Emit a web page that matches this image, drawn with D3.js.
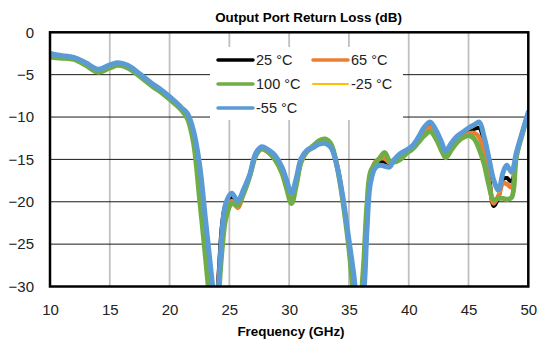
<!DOCTYPE html>
<html>
<head>
<meta charset="utf-8">
<script src="https://cdn.jsdelivr.net/npm/d3@7"></script>
<style>
    body { margin: 0; background: #fff; }
    text { font-family: 'Liberation Sans', Arial, sans-serif; }
</style>
</head>
<body>
<div id="chart"></div>
<script>
// Frequency points (GHz)
var freq = [10, 10.5, 11, 12, 13, 14, 15, 15.7, 16.5, 17.5, 18.5, 19.5, 20.5, 21, 21.5, 22, 22.5, 23, 23.3, 23.6,
    23.8, 24.1, 24.4, 24.7, 25.2, 25.7, 26.2, 26.7, 27.2, 27.7, 28.3, 28.8, 29.4, 29.8, 30.2, 30.6, 31, 31.5, 32, 32.5,
    33, 33.5, 34, 34.5, 35, 35.4, 35.8, 36.2, 36.5, 36.8, 37.2, 37.6, 38, 38.4, 38.8, 39.3, 39.8, 40.3, 40.8, 41.3,
    41.8, 42.3, 42.7, 43.1, 43.6, 44.1, 44.6, 45.1, 45.5, 45.9, 46.3, 46.7, 47.1, 47.5, 47.9, 48.2, 48.6, 49, 49.5, 50];

// Return loss (dB) for each temperature
var rl25 = [-2.6, -2.7, -2.8, -3.0, -3.7, -4.45, -3.95, -3.7, -4.0, -5.0, -6.1, -7.1, -8.3, -9.0, -9.8, -12.0, -16.0, -22.5, -26.8, -31,
    -34, -28.5, -22.5, -20.3, -19.4, -20.1, -18.7, -16.9, -14.4, -13.6, -14.0, -14.7, -16.2, -17.9, -19.4, -17.5, -15.1, -14.0, -13.6, -13.1,
    -13.0, -13.6, -15.7, -19.7, -25, -30, -34, -30, -22.5, -17.2, -15.6, -15.2, -15.3, -15.6, -15.1, -14.4, -14.1, -13.6, -12.6, -11.4,
    -10.8, -11.9, -13.1, -14.2, -13.2, -12.4, -11.9, -11.6, -11.4, -11.3, -13.0, -16.5, -20.5, -19.5, -17.3, -17.2, -17.6, -14.5, -11.8, -9.5];
var rl65 = [-2.7, -2.8, -2.9, -3.1, -3.8, -4.55, -4.05, -3.8, -4.1, -5.1, -6.2, -7.2, -8.4, -9.1, -9.9, -12.3, -17.0, -24.0, -28.5, -33,
    -35, -29.5, -24, -21.0, -19.9, -20.7, -18.9, -17.0, -14.5, -13.8, -14.2, -14.9, -16.5, -18.3, -19.8, -17.8, -15.3, -14.1, -13.6, -13.0,
    -12.9, -13.5, -15.6, -19.8, -25.2, -30.5, -34, -28.5, -21.5, -17.0, -15.3, -14.9, -14.9, -15.4, -15.1, -14.6, -14.2, -13.7, -12.8, -11.7,
    -11.2, -12.2, -13.4, -14.4, -13.4, -12.6, -12.2, -11.9, -11.9, -12.4, -14.3, -17.5, -20.2, -19.3, -17.8, -17.9, -18.3, -14.6, -11.9, -9.5];
var rl100 = [-2.9, -3.0, -3.05, -3.2, -3.9, -4.7, -4.2, -3.9, -4.2, -5.2, -6.3, -7.3, -8.5, -9.2, -10.2, -13.0, -19.5, -26.5, -31, -36,
    -36, -31, -25.5, -22.0, -20.2, -20.4, -19.0, -17.0, -14.6, -13.7, -14.2, -15.0, -16.6, -18.5, -20.2, -18.0, -15.3, -14.0, -13.4, -12.8,
    -12.6, -13.2, -15.8, -20, -25.5, -31, -34, -28, -20.5, -16.5, -15.5, -14.8, -14.2, -15.2, -15.3, -15.0, -14.3, -13.8, -13.0, -12.2,
    -11.7, -12.6, -13.8, -14.8, -13.8, -12.9, -12.4, -12.2, -12.6, -13.8, -15.5, -18.0, -19.8, -19.6, -19.6, -19.7, -19.5, -14.7, -12.0, -9.6];
var rlM25 = [-2.55, -2.7, -2.8, -3.0, -3.65, -4.4, -3.9, -3.65, -3.95, -4.95, -6.05, -7.05, -8.25, -8.95, -9.7, -11.9, -15.7, -22.2, -26.3, -30.5,
    -34, -29.5, -23, -20.2, -19.2, -20.0, -18.6, -16.9, -14.4, -13.6, -14.0, -14.6, -16.0, -17.7, -19.2, -17.4, -15.0, -14.0, -13.6, -13.2,
    -13.1, -13.6, -15.7, -19.6, -24.7, -29, -33.5, -30.5, -23.2, -17.6, -15.9, -15.6, -15.7, -15.8, -15.1, -14.4, -14.0, -13.5, -12.5, -11.3,
    -10.7, -11.7, -12.9, -14.1, -13.1, -12.3, -11.8, -11.4, -11.1, -10.8, -12.6, -15.3, -17.9, -18.9, -16.7, -15.9, -16.7, -14.3, -11.8, -9.4];
var rlM55 = [-2.5, -2.65, -2.75, -2.95, -3.6, -4.35, -3.85, -3.6, -3.9, -4.9, -6.0, -7.0, -8.2, -8.9, -9.6, -11.6, -15.5, -22.0, -26.0, -30,
    -34, -30, -23.3, -20.2, -19.0, -19.9, -18.5, -16.8, -14.3, -13.5, -13.9, -14.5, -15.9, -17.5, -19.0, -17.2, -14.9, -13.9, -13.6, -13.2,
    -13.1, -13.6, -15.8, -19.5, -24.5, -28.5, -33, -31, -23.5, -17.8, -16.0, -15.7, -15.8, -15.9, -15.0, -14.3, -13.9, -13.4, -12.4, -11.2,
    -10.6, -11.6, -12.8, -14.0, -13.0, -12.2, -11.7, -11.2, -10.9, -10.6, -12.3, -14.8, -17.4, -18.6, -16.5, -15.7, -16.5, -14.2, -11.8, -9.4];

var seriesNames = ['25 °C', '65 °C', '100 °C', '-25 °C', '-55 °C'];
var xTicks = [10, 15, 20, 25, 30, 35, 40, 45, 50];
var yTicks = [0, -5, -10, -15, -20, -25, -30];

var chartTitle = 'Output Port Return Loss (dB)';
var xTitle = 'Frequency (GHz)';

// styles
var colors = ['#000000', '#ED7D31', '#70AD47', '#FFC000', '#5B9BD5'];
var widths = [4, 4.5, 5, 2, 5];
var legendWidths = [3.5, 3.5, 3.5, 2, 3.5];

var width = 548, height = 343;
var plotLeft = 50, plotRight = 528.3, plotTop = 32.3, plotBottom = 286.5;

var svg = d3.select('#chart').append('svg')
    .attr('width', width)
    .attr('height', height);

var xScale = d3.scaleLinear().domain([10, 50]).range([plotLeft, plotRight]);
var yScale = d3.scaleLinear().domain([-30, 0]).range([plotBottom, plotTop]);

// gridlines
svg.append('g').selectAll('line').data(xTicks.slice(1, -1)).enter().append('line')
    .attr('x1', function(d) { return xScale(d); })
    .attr('x2', function(d) { return xScale(d); })
    .attr('y1', plotTop).attr('y2', plotBottom)
    .attr('stroke', '#c0c0c0').attr('stroke-width', 1.8);
svg.append('g').selectAll('line').data(yTicks.slice(1, -1)).enter().append('line')
    .attr('x1', plotLeft).attr('x2', plotRight)
    .attr('y1', function(d) { return yScale(d); })
    .attr('y2', function(d) { return yScale(d); })
    .attr('stroke', '#1a1a1a').attr('stroke-width', 1);

svg.append('clipPath').attr('id', 'plotClip').append('rect')
    .attr('x', plotLeft).attr('y', plotTop)
    .attr('width', plotRight - plotLeft).attr('height', plotBottom - plotTop);

var series = [rl25, rl65, rl100, rlM25, rlM55];
var line = d3.line()
    .x(function(d, i) { return xScale(freq[i]); })
    .y(function(d) { return yScale(d); })
    .curve(d3.curveCatmullRom.alpha(0.5));

svg.append('g').attr('clip-path', 'url(#plotClip)')
    .selectAll('path').data(series).enter().append('path')
    .attr('d', line)
    .attr('fill', 'none')
    .attr('stroke', function(d, i) { return colors[i]; })
    .attr('stroke-width', function(d, i) { return widths[i]; })
    .attr('stroke-linejoin', 'round')
    .attr('stroke-linecap', 'round');

// plot border
svg.append('rect')
    .attr('x', plotLeft).attr('y', plotTop)
    .attr('width', plotRight - plotLeft).attr('height', plotBottom - plotTop)
    .attr('fill', 'none').attr('stroke', '#000').attr('stroke-width', 2.5);

// axes
var xAxis = d3.axisBottom(xScale).tickValues(xTicks).tickSize(0).tickPadding(17.5);
var yAxis = d3.axisLeft(yScale).tickValues(yTicks).tickSize(0).tickPadding(16);
var gx = svg.append('g').attr('transform', 'translate(0,' + plotBottom + ')').call(xAxis);
var gy = svg.append('g').attr('transform', 'translate(' + plotLeft + ',0)').call(yAxis);
[gx, gy].forEach(function(g) {
    g.select('.domain').remove();
    g.selectAll('text').attr('font-size', 15).attr('font-family', "'Liberation Sans', Arial, sans-serif").attr('fill', '#222');
});

// titles
svg.append('text')
    .attr('x', 308.5).attr('y', 21.7)
    .attr('text-anchor', 'middle')
    .attr('font-size', 13.4).attr('font-weight', 'bold')
    .text(chartTitle);
svg.append('text')
    .attr('x', 291).attr('y', 336)
    .attr('text-anchor', 'middle')
    .attr('font-size', 13.4).attr('font-weight', 'bold')
    .text(xTitle);

// legend
var legend = svg.append('g');
legend.append('rect')
    .attr('x', 210).attr('y', 47).attr('width', 193).attr('height', 73)
    .attr('fill', '#fff');
var legendPos = [[218, 60], [313, 60], [218, 84], [313, 84], [218, 108]];
var item = legend.selectAll('.item').data(seriesNames).enter().append('g')
    .attr('class', 'item')
    .attr('transform', function(d, i) { return 'translate(' + legendPos[i][0] + ',' + legendPos[i][1] + ')'; });
item.append('line')
    .attr('x1', 0).attr('x2', 35)
    .attr('stroke', function(d, i) { return colors[i]; })
    .attr('stroke-width', function(d, i) { return legendWidths[i]; })
    .attr('stroke-linecap', 'round');
item.append('text')
    .attr('x', 38).attr('dy', '0.35em')
    .attr('font-size', 14.5).attr('fill', '#222')
    .text(function(d) { return d; });
</script>
</body>
</html>
